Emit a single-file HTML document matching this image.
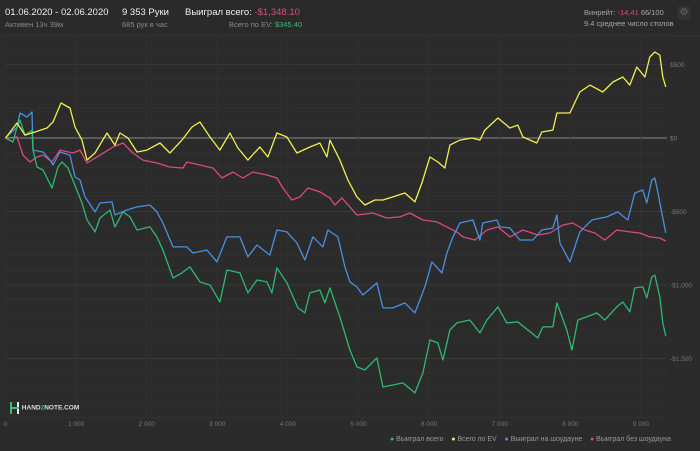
<!DOCTYPE html>
<html><head><meta charset="utf-8">
<style>
html,body{margin:0;padding:0;background:#2b2b2b;width:700px;height:451px;overflow:hidden;font-family:"Liberation Sans","DejaVu Sans",sans-serif}
.t{position:absolute;white-space:nowrap}
</style></head>
<body>
<div style="position:absolute;left:0;top:0;width:700px;height:35px;background:#2a2a2a;border-bottom:1px solid #333"></div>
<div class="t" style="left:5px;top:7px;font-size:9.5px;color:#f0f0f0">01.06.2020 - 02.06.2020</div>
<div class="t" style="left:5px;top:20px;font-size:7.5px;color:#8a8a8a">Активен 13ч 39м</div>
<div class="t" style="left:122px;top:7px;font-size:9.5px;color:#f0f0f0">9 353 Руки</div>
<div class="t" style="left:122px;top:20px;font-size:7.5px;color:#8a8a8a">685 рук в час</div>
<div class="t" style="left:185px;top:7px;font-size:9.5px;color:#f0f0f0">Выиграл всего: <span style="color:#d9507f">-$1,348.10</span></div>
<div class="t" style="left:229px;top:20px;font-size:7.5px;color:#8a8a8a">Всего по EV: <span style="color:#3dbb7a">$345.40</span></div>
<div class="t" style="left:584px;top:8px;font-size:7.5px;color:#a8a8a8">Винрейт: <span style="color:#d9507f">-14.41</span> 66/100</div>
<div class="t" style="left:584px;top:19px;font-size:7.5px;color:#a8a8a8">9.4 среднее число столов</div>
<div style="position:absolute;left:677px;top:6px;width:14px;height:14px;border-radius:3px;background:#323232;color:#666;font-size:10px;text-align:center;line-height:14px">⚙</div>

<svg id="chart" width="700" height="451" style="position:absolute;left:0;top:0"></svg>

<div class="t" style="left:10px;top:402px;font-size:6.5px;color:#ddd;font-weight:bold"><span style="display:inline-block;width:10px;height:12px;vertical-align:middle;position:relative"><span style="position:absolute;left:0;top:0;width:2px;height:12px;background:#3dbb7a"></span><span style="position:absolute;left:7px;top:0;width:2px;height:12px;background:#eee"></span><span style="position:absolute;left:0;top:5px;width:9px;height:2px;background:#3dbb7a"></span></span> HAND<span style="color:#3dbb7a">2</span>NOTE.COM</div>

<div class="t" style="left:390px;top:436px;font-size:7px;color:#999">
<span><span style="color:#2fb872">●</span> Выиграл всего</span>&nbsp;&nbsp;&nbsp;
<span><span style="color:#f2ee4e">●</span> Всего по EV</span>&nbsp;&nbsp;&nbsp;
<span><span style="color:#4a90e0">●</span> Выиграл на шоудауне</span>&nbsp;&nbsp;&nbsp;
<span><span style="color:#d94a80">●</span> Выиграл без шоудауна</span>
</div>

<script>
const yTickValues=[500,0,-500,-1000,-1500];
const yTickLabels=["$500","$0","-$500","-$1,000","-$1,500"];
const xTickValues=[0,1000,2000,3000,4000,5000,6000,7000,8000,9000];
const xTickLabels=["0","1 000","2 000","3 000","4 000","5 000","6 000","7 000","8 000","9 000"];

const evHands=[0,163,276,418,588,673,786,913,984,1083,1154,1267,1437,1550,1621,1735,1862,2003,2188,2329,2499,2641,2754,2896,3037,3179,3292,3434,3604,3717,3844,3986,4127,4312,4453,4552,4595,4737,4850,4977,5091,5232,5345,5487,5657,5799,5898,6011,6124,6223,6294,6436,6606,6719,6790,6974,7144,7257,7328,7526,7597,7753,7810,7994,8135,8277,8461,8603,8744,8843,8942,9056,9126,9197,9268,9310,9353];
const evValues=[0,102,20,41,68,109,238,204,75,-14,-150,-102,34,-48,34,0,-95,-82,-34,-102,-14,75,109,7,-82,34,-68,-150,-61,-129,34,7,-102,-61,-34,-129,-14,-150,-286,-401,-456,-422,-422,-401,-374,-435,-306,-129,-163,-204,-48,-14,0,-14,54,136,68,88,7,-34,41,54,170,170,313,360,313,381,415,360,483,415,551,585,564,415,347];

const totalHands=[0,106,163,205,276,375,389,446,531,658,743,800,885,942,1083,1154,1267,1338,1480,1550,1664,1763,1862,2046,2145,2230,2372,2499,2612,2754,2896,3037,3136,3320,3434,3561,3703,3774,3844,3986,4142,4241,4312,4453,4524,4595,4737,4878,4977,5091,5260,5345,5487,5629,5799,5912,6011,6124,6195,6294,6393,6577,6719,6818,6974,7101,7257,7399,7540,7611,7753,7810,7951,8022,8107,8234,8376,8489,8659,8744,8843,8914,9027,9084,9155,9197,9268,9310,9353];
const totalValues=[0,-27,75,122,20,54,-82,-197,-218,-340,-197,-163,-204,-272,-442,-558,-639,-544,-490,-605,-503,-537,-626,-605,-673,-762,-952,-918,-877,-979,-1000,-1115,-898,-918,-1054,-966,-979,-1054,-884,-986,-1156,-1190,-1054,-1034,-1122,-1020,-1217,-1442,-1557,-1578,-1496,-1693,-1680,-1666,-1734,-1598,-1374,-1394,-1510,-1306,-1258,-1238,-1326,-1238,-1149,-1258,-1251,-1306,-1360,-1285,-1285,-1122,-1306,-1442,-1238,-1217,-1190,-1238,-1149,-1115,-1183,-1020,-1013,-1088,-945,-932,-1081,-1258,-1348];

const sdHands=[0,163,205,304,375,389,531,630,673,772,913,984,1055,1126,1267,1338,1508,1550,1720,1862,2046,2145,2230,2372,2570,2655,2853,2995,3136,3320,3434,3561,3745,3844,3986,4127,4241,4354,4496,4566,4708,4807,4878,4977,5062,5260,5345,5487,5657,5799,5940,6039,6181,6252,6337,6436,6620,6719,6761,6960,7002,7144,7285,7469,7597,7753,7810,7852,7994,8135,8305,8517,8673,8815,8914,9027,9084,9155,9197,9240,9296,9353];
const sdValues=[0,75,170,143,177,-82,-95,-150,-184,-95,-116,-265,-286,-401,-503,-442,-435,-524,-490,-469,-456,-503,-578,-741,-741,-782,-762,-843,-673,-673,-809,-728,-796,-626,-639,-714,-830,-673,-741,-626,-673,-877,-979,-1013,-1068,-986,-1156,-1156,-1122,-1190,-1013,-843,-918,-782,-673,-578,-558,-694,-578,-558,-605,-612,-694,-694,-626,-612,-524,-714,-843,-639,-558,-537,-503,-558,-374,-354,-442,-286,-272,-367,-510,-646];

const nsdHands=[0,163,248,347,446,531,658,772,956,1055,1154,1338,1522,1664,1805,1947,2145,2329,2513,2570,2754,2938,3066,3221,3363,3504,3703,3844,3929,4057,4170,4283,4453,4595,4666,4765,4878,4977,5204,5402,5586,5728,5912,6110,6252,6393,6478,6648,6818,6974,7144,7328,7540,7710,7895,8036,8206,8347,8489,8659,8843,8985,9126,9268,9353];
const nsdValues=[0,7,-116,-163,-129,-116,-163,-82,-102,-82,-170,-116,-61,-34,-102,-150,-170,-197,-204,-163,-184,-204,-272,-231,-272,-231,-252,-272,-340,-422,-401,-340,-367,-408,-456,-408,-469,-524,-510,-544,-537,-510,-558,-571,-605,-639,-673,-694,-626,-605,-673,-626,-660,-646,-592,-578,-626,-646,-694,-626,-639,-646,-673,-680,-702];

const NS="http://www.w3.org/2000/svg";
const svg=document.getElementById('chart');
const X0=5.5,PX=0.0706,Y0=138,PY=73.5/500;
function xs(h){return X0+h*PX;}
function ys(v){return Y0-v*PY;}
function mk(t,a){const e=document.createElementNS(NS,t);for(const k in a)e.setAttribute(k,a[k]);svg.appendChild(e);return e;}
for(let v=700;v>=-1900;v-=100){
  const g=mk('line',{x1:5,x2:667,y1:ys(v),y2:ys(v),stroke:(v%500===0)?(v===0?'#8a8a8a':'#3e3e3e'):'#323232','stroke-width':v===0?1:0.8});
  
  
}
xTickValues.forEach((v,i)=>{
  const g=mk('line',{x1:xs(v),x2:xs(v),y1:37,y2:417,stroke:'#333','stroke-width':0.8});
  
  
  const t=mk('text',{x:xs(v),y:426,'font-size':6.5,fill:'#777','text-anchor':'middle','font-family':'Liberation Sans, sans-serif'});
  t.textContent=xTickLabels[i];
  
  
});
yTickValues.forEach((v,i)=>{
  const t=mk('text',{x:670,y:ys(v)+2.5,'font-size':6.5,fill:'#777','font-family':'Liberation Sans, sans-serif'});
  t.textContent=yTickLabels[i];
  
  
});
function series(h,v,c,name){
  const d=h.map((hh,i)=>(i?'L':'M')+xs(hh).toFixed(1)+','+ys(v[i]).toFixed(1)).join('');
  const p=mk('path',{d:d,fill:'none',stroke:c,'stroke-width':1.3,'stroke-linejoin':'round'});
  
  
}
series(nsdHands,nsdValues,'#d94a80','nonshowdown-line');
series(sdHands,sdValues,'#4a90e0','showdown-line');
series(totalHands,totalValues,'#2fb872','total-won-line');
series(evHands,evValues,'#f2ee4e','ev-line');
</script>
</body></html>
